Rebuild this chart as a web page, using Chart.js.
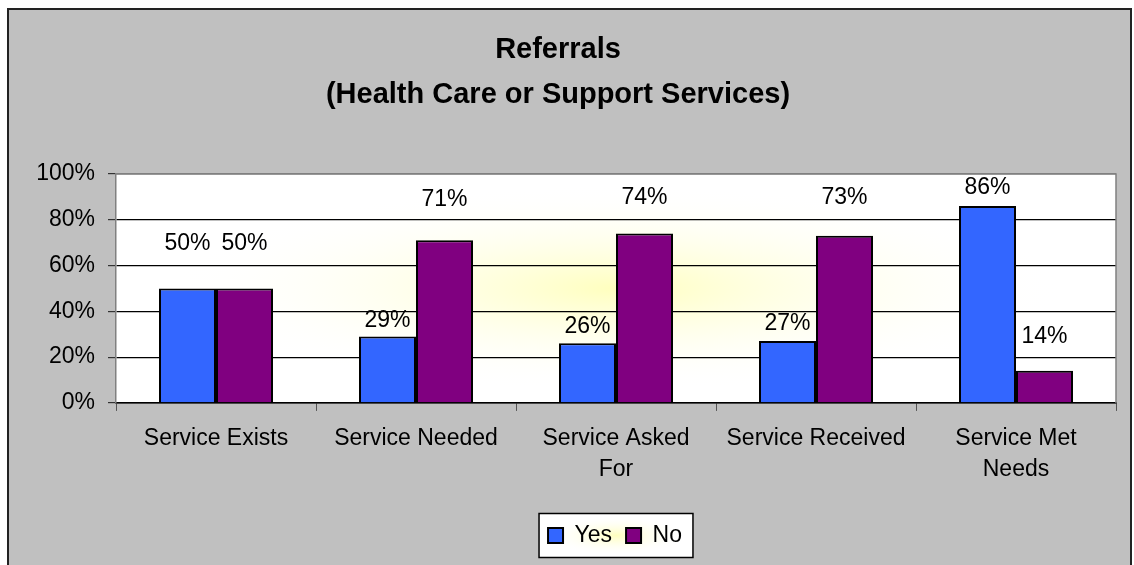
<!DOCTYPE html>
<html>
<head>
  <meta charset="utf-8">
  <title>Referrals (Health Care or Support Services)</title>
  <script src="https://cdn.jsdelivr.net/npm/chart.js"></script>
  <style>
    html, body {
      margin: 0;
      padding: 0;
      background-color: #fff;
    }
    .chart-container {
      width: 1134px;
      height: 565px;
    }
  </style>
</head>
<body>
  <div class="chart-container">
    <canvas id="chartReferrals"></canvas>
  </div>

  <script>
    // Categories (multi-line labels as drawn in the original)
    const categories = [
      ['Service Exists'],
      ['Service Needed'],
      ['Service Asked', 'For'],
      ['Service Received'],
      ['Service Met', 'Needs']
    ];

    // Percentages per category
    const yesValues = [50, 29, 26, 27, 86];
    const noValues = [50, 71, 74, 73, 14];

    // Y axis ticks
    const yTickStep = 20;
    const yMax = 100;

    // How far above each bar top its value label sits (px), as in the original
    const yesLabelLift = [45, 16, 17, 17, 18];
    const noLabelLift = [45, 41, 36, 38, 34];

    const FONT = '"Liberation Sans", Arial, sans-serif';
    Chart.defaults.font.family = FONT;
    Chart.defaults.color = '#000';

    // soft yellow glow in the middle of a box
    function glow(ctx, x, y, w, h) {
      ctx.save();
      ctx.fillStyle = '#fff';
      ctx.fillRect(x, y, w, h);
      const cx = x + w / 2, cy = y + h / 2;
      const sy = h / w;
      ctx.translate(cx, cy);
      ctx.scale(1, sy);
      const g = ctx.createRadialGradient(0, 0, 0, 0, 0, w * 0.45);
      g.addColorStop(0, 'rgba(255,255,190,1)');
      g.addColorStop(1, 'rgba(255,255,255,0)');
      ctx.fillStyle = g;
      ctx.fillRect(-w / 2, -h / 2 / sy, w, h / sy);
      ctx.restore();
    }

    const backgroundPlugin = {
      id: 'background',
      afterLayout(chart) {
        // the legend sits right of centre in the original
        if (chart.legend) {
          chart.legend.left += 57;
          chart.legend.right += 57;
        }
      },
      beforeDraw(chart) {
        const ctx = chart.ctx;
        const a = chart.chartArea;
        ctx.save();
        ctx.fillStyle = '#fff';
        ctx.fillRect(0, 0, chart.width, chart.height);
        ctx.fillStyle = '#c0c0c0';
        ctx.fillRect(8, 9, chart.width - 11, chart.height);
        ctx.strokeStyle = '#222';
        ctx.lineWidth = 2;
        ctx.strokeRect(8, 9, chart.width - 11, chart.height + 10);
        ctx.restore();

        // plot area
        glow(ctx, a.left, a.top, a.right - a.left, a.bottom - a.top);

        // legend frame
        const boxes = chart.legend && chart.legend.legendHitBoxes;
        if (boxes && boxes.length) {
          const l = Math.min(...boxes.map(b => b.left)) - 9;
          const r = Math.max(...boxes.map(b => b.left + b.width)) + 11;
          const cy = boxes[0].top + boxes[0].height / 2;
          glow(ctx, l, cy - 22, r - l, 44);
          ctx.save();
          ctx.strokeStyle = '#000';
          ctx.lineWidth = 1.5;
          ctx.strokeRect(l, cy - 22, r - l, 44);
          ctx.restore();
        }
      },
      beforeDatasetsDraw(chart) {
        // gray plot frame (top, right)
        const ctx = chart.ctx;
        const a = chart.chartArea;
        ctx.save();
        ctx.strokeStyle = '#808080';
        ctx.lineWidth = 1.5;
        ctx.beginPath();
        ctx.moveTo(a.left, a.top);
        ctx.lineTo(a.right, a.top);
        ctx.lineTo(a.right, a.bottom);
        ctx.stroke();
        ctx.restore();
      }
    };

    const valueLabelPlugin = {
      id: 'valueLabels',
      afterDatasetsDraw(chart) {
        const ctx = chart.ctx;
        const lifts = [yesLabelLift, noLabelLift];
        ctx.save();
        ctx.font = '23px ' + FONT;
        ctx.fillStyle = '#000';
        ctx.textAlign = 'center';
        ctx.textBaseline = 'middle';
        chart.data.datasets.forEach((ds, di) => {
          const meta = chart.getDatasetMeta(di);
          meta.data.forEach((bar, i) => {
            ctx.fillText(ds.data[i] + '%', bar.x, bar.y - lifts[di][i]);
          });
        });
        ctx.restore();
      }
    };

    const ctx = document.getElementById('chartReferrals').getContext('2d');
    const chart = new Chart(ctx, {
      type: 'bar',
      data: {
        labels: categories,
        datasets: [
          {
            label: 'Yes',
            data: yesValues,
            backgroundColor: '#3366ff',
            borderColor: '#000',
            borderWidth: 2
          },
          {
            label: 'No',
            data: noValues,
            backgroundColor: '#800080',
            borderColor: '#000',
            borderWidth: 2
          }
        ]
      },
      options: {
        responsive: true,
        maintainAspectRatio: false,
        animation: false,
        layout: {
          padding: { left: 0, right: 18, top: 0, bottom: 8 }
        },
        datasets: {
          bar: {
            categoryPercentage: 0.57,
            barPercentage: 1.0
          }
        },
        plugins: {
          title: {
            display: true,
            text: ['Referrals', '(Health Care or Support Services)'],
            font: { size: 29, weight: 'bold', lineHeight: 1.55 },
            color: '#000',
            padding: { top: 28, bottom: 56 }
          },
          legend: {
            position: 'bottom',
            labels: {
              boxWidth: 15,
              boxHeight: 15,
              padding: 14,
              font: { size: 23 },
              color: '#000'
            }
          },
          tooltip: { enabled: false }
        },
        scales: {
          x: {
            afterFit(scale) { scale.height += 13; },
            grid: {
              drawOnChartArea: false,
              drawTicks: true,
              tickLength: 8,
              color: '#555',
              offset: true
            },
            border: { color: '#000', width: 1.5 },
            ticks: {
              padding: 12,
              font: { size: 23, lineHeight: 1.35 },
              color: '#000',
              maxRotation: 0,
              autoSkip: false
            }
          },
          y: {
            min: 0,
            max: yMax,
            afterFit(scale) { scale.width = 116; },
            grid: {
              color: (c) => (c.tick && c.tick.value === yMax ? '#808080' : '#000'),
              tickColor: '#333',
              tickLength: 8,
              lineWidth: 1.2
            },
            border: { color: '#808080', width: 1.5 },
            ticks: {
              stepSize: yTickStep,
              padding: 13,
              font: { size: 23 },
              color: '#000',
              callback: (v) => v + '%'
            }
          }
        }
      },
      plugins: [backgroundPlugin, valueLabelPlugin]
    });
  </script>
</body>
</html>
